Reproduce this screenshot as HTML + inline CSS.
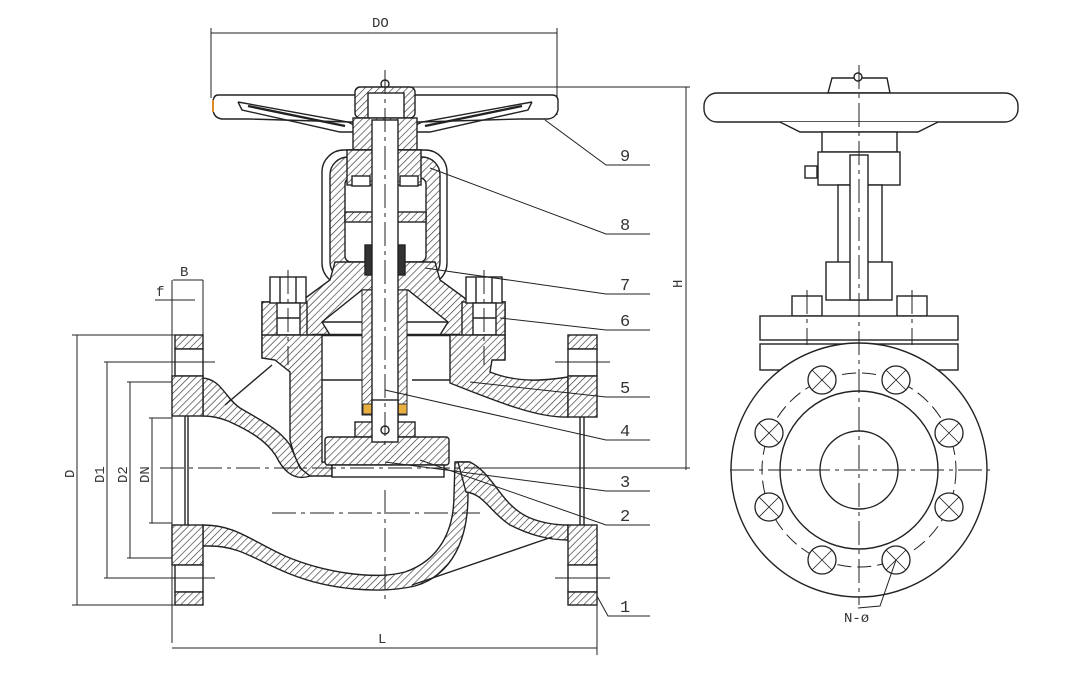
<!DOCTYPE html>
<html><head><meta charset="utf-8"><style>
html,body{margin:0;padding:0;background:#fff}
svg{display:block}
text{font-family:"Liberation Mono","DejaVu Sans Mono",monospace;fill:#333}
</style></head><body>
<svg width="1086" height="678" viewBox="0 0 1086 678" xmlns="http://www.w3.org/2000/svg">
<defs>
<pattern id="h" patternUnits="userSpaceOnUse" width="5" height="5" patternTransform="rotate(45)">
<rect width="5" height="5" fill="#fff"/><line x1="0" y1="0" x2="0" y2="5" stroke="#333" stroke-width="1.3"/>
</pattern>
</defs>
<g fill="none" stroke="#222" stroke-width="1.4">

<!-- DO dimension -->
<line x1="211" y1="33" x2="557" y2="33" stroke-width="1"/>
<line x1="211" y1="28" x2="211" y2="98" stroke-width="1"/>
<line x1="557" y1="28" x2="557" y2="115" stroke-width="1"/>
<!-- H dimension -->
<line x1="686" y1="87" x2="686" y2="470" stroke-width="1"/>
<line x1="390" y1="87" x2="690" y2="87" stroke-width="1"/>
<line x1="460" y1="468" x2="690" y2="468" stroke-width="1"/>

<!-- handwheel -->
<path d="M218,95 L552,95 Q558,95 558,101 L558,110 Q556,118 548,119 L520,119 L420,122 L350,122 L250,119 L222,119 Q214,118 213,110 L213,101 Q214,95 218,95 Z" fill="#fff"/>
<path d="M238,102 L348,122 L356,126 M238,102 L242,110 L340,132 L356,132" />
<path d="M532,102 L422,122 L414,126 M532,102 L528,110 L430,132 L414,132"/>
<line x1="248" y1="106" x2="345" y2="126" stroke-width="2.4"/>
<line x1="522" y1="106" x2="425" y2="126" stroke-width="2.4"/>
<path d="M213,100 L213,112" stroke="#e08a2a" stroke-width="2"/>

<!-- cap and neck -->
<circle cx="385" cy="84" r="4" fill="#fff"/>
<rect x="355" y="87" width="60" height="31" rx="5" fill="url(#h)"/>
<rect x="368" y="93" width="36" height="25" fill="#fff"/>
<rect x="353" y="118" width="64" height="32" fill="url(#h)"/>
<rect x="347" y="150" width="74" height="35" fill="url(#h)"/>

<!-- yoke -->
<rect x="322" y="150" width="125" height="135" rx="22" fill="#fff"/>
<rect x="330" y="157" width="110" height="123" rx="18" fill="url(#h)"/>
<rect x="345" y="178" width="81" height="84" rx="6" fill="#fff"/>
<rect x="347" y="150" width="74" height="35" fill="url(#h)"/>
<rect x="345" y="212" width="81" height="10" fill="url(#h)"/>
<rect x="352" y="176" width="18" height="10" fill="#fff"/>
<rect x="400" y="176" width="18" height="10" fill="#fff"/>

<!-- bonnet -->
<path d="M335,262 L435,262 L440,280 L470,302 L505,302 L505,335 L262,335 L262,302 L300,302 L330,280 Z" fill="url(#h)"/>
<path d="M362,290 L408,290 L448,322 L440,335 L330,335 L322,322 Z" fill="#fff"/>
<line x1="312" y1="335" x2="460" y2="335" stroke-width="2.4"/>
<line x1="322" y1="322" x2="448" y2="322"/>

<!-- bolts -->
<rect x="262" y="302" width="45" height="56" fill="url(#h)"/>
<rect x="462" y="302" width="43" height="56" fill="url(#h)"/>
<rect x="270" y="277" width="36" height="26" fill="#fff"/>
<line x1="280" y1="277" x2="280" y2="303"/><line x1="296" y1="277" x2="296" y2="303"/>
<rect x="277" y="303" width="23" height="55" fill="#fff"/>
<line x1="277" y1="318" x2="300" y2="318"/><line x1="277" y1="335" x2="300" y2="335"/>
<rect x="466" y="277" width="36" height="26" fill="#fff"/>
<line x1="476" y1="277" x2="476" y2="303"/><line x1="492" y1="277" x2="492" y2="303"/>
<rect x="473" y="303" width="23" height="55" fill="#fff"/>
<line x1="473" y1="318" x2="496" y2="318"/><line x1="473" y1="335" x2="496" y2="335"/>

<!-- body neck left -->
<path d="M262,335 L322,335 L322,462 L332,462 L332,476 L310,476 C298,470 294,455 290,440 L290,372 L275,360 L262,358 Z" fill="url(#h)"/>
<path d="M203,378 C222,380 225,398 240,408 C260,420 278,428 290,445 L300,468 L310,476 C292,482 282,468 276,456 C266,440 248,430 228,421 C218,417 210,416 203,416 Z" fill="url(#h)"/>
<line x1="225" y1="405" x2="272" y2="365"/>
<line x1="322" y1="380" x2="365" y2="380"/>

<!-- right upper wall -->
<path d="M450,335 L505,335 L505,360 L492,360 L490,372 C520,384 548,380 568,377 L568,417 C540,418 505,405 450,383 Z" fill="url(#h)"/>
<line x1="412" y1="380" x2="450" y2="380"/>

<!-- lower body -->
<path d="M455,462 L468,462 L468,495 C468,540 452,575 415,586 C380,594 330,590 290,574 C255,560 240,546 210,546 L203,546 L203,525 C235,525 250,540 285,556 C325,573 375,580 405,572 C440,560 454,530 454,495 Z" fill="url(#h)"/>
<path d="M458,462 L470,462 C495,475 500,505 530,518 C545,524 558,525 568,525 L568,540 C548,540 530,535 510,525 C490,512 484,494 466,492 Z" fill="url(#h)"/>
<line x1="412" y1="585" x2="552" y2="537"/>

<!-- flanges -->
<rect x="175" y="335" width="28" height="14" fill="url(#h)"/>
<rect x="175" y="349" width="28" height="27" fill="#fff"/>
<rect x="172" y="376" width="31" height="40" fill="url(#h)"/>
<rect x="172" y="525" width="31" height="40" fill="url(#h)"/>
<rect x="175" y="565" width="28" height="27" fill="#fff"/>
<rect x="175" y="592" width="28" height="13" fill="url(#h)"/>
<line x1="185" y1="416" x2="185" y2="525"/><line x1="188" y1="416" x2="188" y2="525"/>
<rect x="568" y="335" width="29" height="14" fill="url(#h)"/>
<rect x="568" y="349" width="29" height="27" fill="#fff"/>
<rect x="568" y="376" width="29" height="41" fill="url(#h)"/>
<rect x="568" y="525" width="29" height="40" fill="url(#h)"/>
<rect x="568" y="565" width="29" height="27" fill="#fff"/>
<rect x="568" y="592" width="29" height="13" fill="url(#h)"/>
<line x1="580" y1="417" x2="580" y2="525"/><line x1="584" y1="417" x2="584" y2="525"/>

<!-- stem, packing, disc -->
<rect x="362" y="290" width="10" height="125" fill="url(#h)" stroke-width="1"/>
<rect x="397" y="290" width="10" height="125" fill="url(#h)" stroke-width="1"/>
<rect x="363" y="404" width="9" height="10" fill="#e8b040" stroke="#333" stroke-width="1"/>
<rect x="398" y="404" width="9" height="10" fill="#e8b040" stroke="#333" stroke-width="1"/>
<rect x="365" y="245" width="7" height="30" fill="#333"/>
<rect x="398" y="245" width="7" height="30" fill="#333"/>
<rect x="372" y="120" width="26" height="322" fill="#fff"/>
<rect x="355" y="422" width="60" height="15" fill="url(#h)"/>
<rect x="325" y="437" width="124" height="28" rx="3" fill="url(#h)"/>
<rect x="372" y="400" width="26" height="42" fill="#fff"/>
<circle cx="385" cy="430" r="4"/>
<rect x="332" y="465" width="112" height="12" fill="#fff"/>

<!-- leaders -->
<g stroke-width="1">
<polyline points="545,120 606,165 650,165"/>
<polyline points="430,168 606,234 650,234"/>
<polyline points="425,268 606,294 650,294"/>
<polyline points="500,318 606,330 650,330"/>
<polyline points="470,382 606,397 650,397"/>
<polyline points="385,390 606,440 650,440"/>
<polyline points="385,462 606,491 650,491"/>
<polyline points="420,460 606,525 650,525"/>
<polyline points="597,596 608,616 650,616"/>
</g>

<!-- centerlines -->
<g stroke-width="1" stroke-dasharray="24,5,4,5">
<line x1="385" y1="70" x2="385" y2="445"/>
<line x1="160" y1="468" x2="620" y2="468"/>
<line x1="385" y1="490" x2="385" y2="600"/>
<line x1="272" y1="513" x2="480" y2="513"/>
<line x1="288" y1="270" x2="288" y2="365"/>
<line x1="484" y1="270" x2="484" y2="365"/>
</g>
<g stroke-width="1">
<line x1="160" y1="362" x2="215" y2="362"/><line x1="160" y1="578" x2="215" y2="578"/>
<line x1="555" y1="362" x2="610" y2="362"/><line x1="555" y1="578" x2="610" y2="578"/>
</g>

<!-- left dimensions -->
<g stroke-width="1">
<line x1="172" y1="280" x2="172" y2="643"/>
<line x1="203" y1="280" x2="203" y2="335"/>
<line x1="597" y1="605" x2="597" y2="655"/>
<line x1="173" y1="280" x2="203" y2="280"/>
<line x1="155" y1="300" x2="195" y2="300"/>
<line x1="77" y1="335" x2="77" y2="605"/><line x1="72" y1="335" x2="175" y2="335"/><line x1="72" y1="605" x2="175" y2="605"/>
<line x1="107" y1="362" x2="107" y2="578"/><line x1="104" y1="362" x2="160" y2="362"/><line x1="104" y1="578" x2="160" y2="578"/>
<line x1="130" y1="382" x2="130" y2="558"/><line x1="127" y1="382" x2="172" y2="382"/><line x1="127" y1="558" x2="172" y2="558"/>
<line x1="152" y1="418" x2="152" y2="523"/><line x1="149" y1="418" x2="172" y2="418"/><line x1="149" y1="523" x2="172" y2="523"/>
<line x1="172" y1="648" x2="597" y2="648"/>
</g>
</g>
<g font-size="14">
<text x="372" y="27">DO</text>
<text x="180" y="276">B</text>
<text x="156" y="296">f</text>
<text x="378" y="643">L</text>
<text x="620" y="161" font-size="17">9</text>
<text x="620" y="230" font-size="17">8</text>
<text x="620" y="290" font-size="17">7</text>
<text x="620" y="326" font-size="17">6</text>
<text x="620" y="393" font-size="17">5</text>
<text x="620" y="436" font-size="17">4</text>
<text x="620" y="487" font-size="17">3</text>
<text x="620" y="521" font-size="17">2</text>
<text x="620" y="612" font-size="17">1</text>
<text transform="translate(682,288) rotate(-90)">H</text>
<text transform="translate(74,478) rotate(-90)">D</text>
<text transform="translate(104,483) rotate(-90)">D1</text>
<text transform="translate(127,483) rotate(-90)">D2</text>
<text transform="translate(149,483) rotate(-90)">DN</text>
<text x="844" y="622">N-ø</text>
</g>

<!-- right view -->
<g fill="none" stroke="#222" stroke-width="1.4">
<path d="M832,78 L887,78 L890,93 L828,93 Z" fill="#fff"/>
<circle cx="858" cy="77" r="4" fill="#fff"/>
<rect x="704" y="93" width="314" height="29" rx="13" fill="#fff"/>
<path d="M780,122 L800,132 L918,132 L938,122" fill="#fff"/>
<rect x="822" y="132" width="75" height="20" fill="#fff"/>
<rect x="818" y="152" width="82" height="33" fill="#fff"/>
<rect x="838" y="185" width="44" height="85" fill="#fff"/>
<rect x="826" y="262" width="66" height="38" fill="#fff"/>
<rect x="850" y="155" width="18" height="145" fill="#fff"/>
<rect x="805" y="166" width="12" height="12" fill="#fff"/>
<rect x="792" y="296" width="30" height="20" fill="#fff"/>
<rect x="897" y="296" width="30" height="20" fill="#fff"/>
<rect x="760" y="316" width="198" height="24" fill="#fff"/>
<rect x="760" y="344" width="198" height="26" fill="#fff"/>
<ellipse cx="859" cy="470" rx="128" ry="127" fill="#fff"/>
<circle cx="859" cy="470" r="79"/>
<circle cx="859" cy="470" r="39"/>
<circle cx="859" cy="470" r="97" stroke-width="1" stroke-dasharray="14,6"/>
<g stroke-width="1.3">
<circle cx="949" cy="433" r="14" fill="#fff"/><circle cx="949" cy="507" r="14" fill="#fff"/>
<circle cx="769" cy="433" r="14" fill="#fff"/><circle cx="769" cy="507" r="14" fill="#fff"/>
<circle cx="822" cy="380" r="14" fill="#fff"/><circle cx="896" cy="380" r="14" fill="#fff"/>
<circle cx="822" cy="560" r="14" fill="#fff"/><circle cx="896" cy="560" r="14" fill="#fff"/>
</g>
<g stroke-width="0.8">
<path d="M939,423 l20,20 M959,423 l-20,20 M939,497 l20,20 M959,497 l-20,20 M759,423 l20,20 M779,423 l-20,20 M759,497 l20,20 M779,497 l-20,20 M812,370 l20,20 M832,370 l-20,20 M886,370 l20,20 M906,370 l-20,20 M812,550 l20,20 M832,550 l-20,20 M886,550 l20,20 M906,550 l-20,20"/>
</g>
<g stroke-width="1" stroke-dasharray="24,5,4,5">
<line x1="859" y1="65" x2="859" y2="605"/>
<line x1="730" y1="470" x2="990" y2="470"/>
<line x1="807" y1="290" x2="807" y2="345"/>
<line x1="912" y1="290" x2="912" y2="345"/>
</g>
<polyline points="896,560 880,606 858,608" stroke-width="1"/>
</g>
</svg>
</body></html>
